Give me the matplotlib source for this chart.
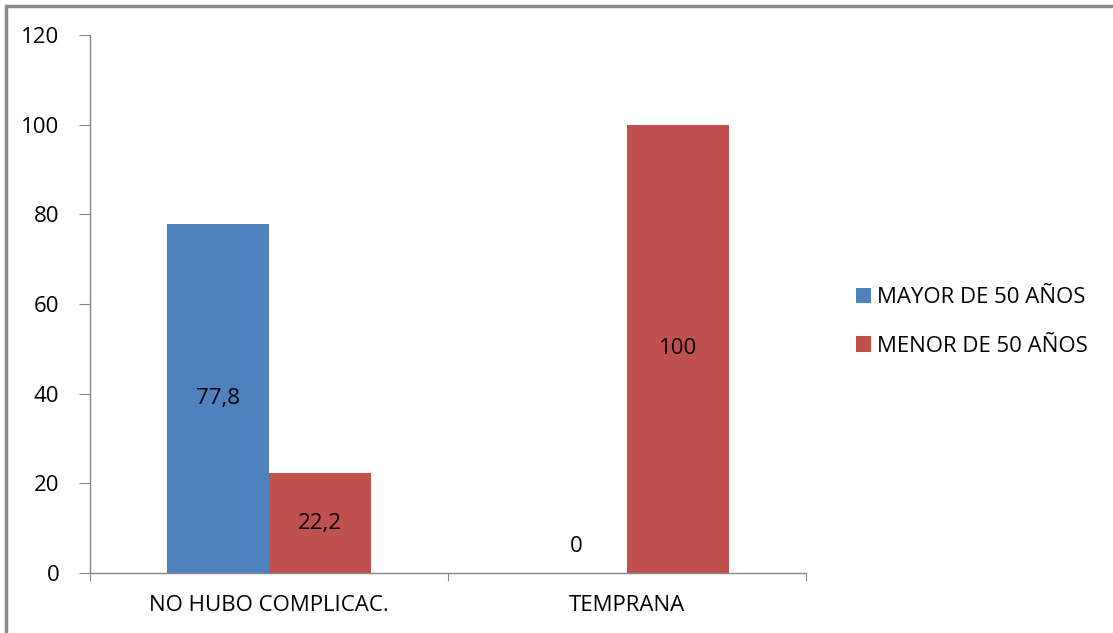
import numpy as np
import matplotlib.pyplot as plt
from matplotlib.patches import Rectangle

categorias = ["NO HUBO COMPLICAC.", "TEMPRANA"]
mayor_50 = [77.8, 0]
menor_50 = [22.2, 100]
series_nombres = ["MAYOR DE 50 AÑOS", "MENOR DE 50 AÑOS"]
etiquetas_mayor = ["77,8", "0"]
etiquetas_menor = ["22,2", "100"]

AZUL = "#4F81BD"
ROJO = "#C0504D"
GRIS = "#868686"
FS = 16

plt.rcParams['font.family'] = ['Open Sans', 'DejaVu Sans']

fig = plt.figure(figsize=(11.13, 6.33), dpi=100)
ax = fig.add_axes([90 / 1113, 1 - 573 / 633, 716 / 1113, 538 / 633])

# marco gris de la figura (solo se ve arriba y a la izquierda)
fig.patches.append(Rectangle((6 / 1113, -0.1), 1.2, 1 - 6 / 633 + 0.1,
                             transform=fig.transFigure, fill=False,
                             edgecolor="#8c8c8c", linewidth=2.5))

x = np.arange(len(categorias))
ancho = 0.284
b1 = ax.bar(x - ancho / 2, mayor_50, ancho, color=AZUL, label=series_nombres[0])
b2 = ax.bar(x + ancho / 2, menor_50, ancho, color=ROJO, label=series_nombres[1])

# etiquetas de datos en el centro de cada barra
for rect, txt in zip(b1, etiquetas_mayor):
    h = rect.get_height()
    yy = h / 2 if h > 0 else 6
    ax.text(rect.get_x() + rect.get_width() / 2, yy, txt,
            ha="center", va="center", fontsize=FS)
for rect, txt in zip(b2, etiquetas_menor):
    h = rect.get_height()
    ax.text(rect.get_x() + rect.get_width() / 2, h / 2, txt,
            ha="center", va="center", fontsize=FS)

ax.set_xlim(-0.5, 1.5)
ax.set_ylim(0, 120)
ax.set_yticks(np.arange(0, 121, 20))
ax.set_xticks([-0.5, 0.5, 1.5])
ax.set_xticklabels([])
ax.set_xticks(x, minor=True)
ax.set_xticklabels(categorias, minor=True, fontsize=FS)
ax.tick_params(axis="x", which="minor", length=0, pad=16)
ax.tick_params(axis="x", which="major", length=6, color=GRIS, direction="out")
ax.tick_params(axis="y", length=8, color=GRIS, labelsize=FS, pad=14)

for lado in ["top", "right"]:
    ax.spines[lado].set_visible(False)
for lado in ["left", "bottom"]:
    ax.spines[lado].set_color(GRIS)
    ax.spines[lado].set_linewidth(1)

ax.legend(loc="center left", bbox_to_anchor=(847 / 1113, 1 - 322 / 633),
          bbox_transform=fig.transFigure, frameon=False, fontsize=FS,
          handlelength=0.7, handleheight=0.7, handletextpad=0.25,
          labelspacing=1.25, borderaxespad=0)

fig.savefig("out.png", dpi=100)
